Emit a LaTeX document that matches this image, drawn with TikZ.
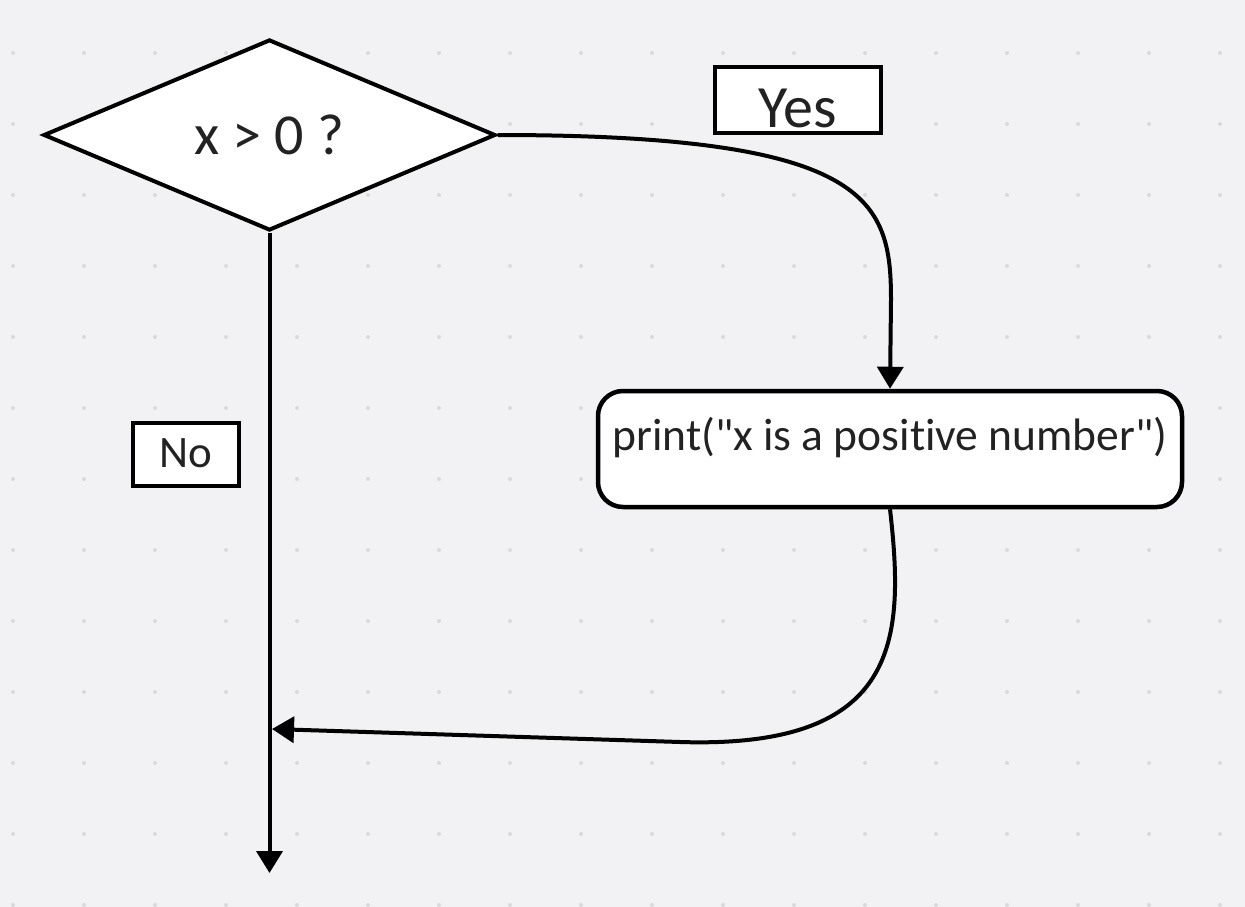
\documentclass[tikz,border=0pt]{standalone}
\usepackage{fontspec}
\setmainfont{Carlito}[Ligatures={NoCommon}]
\usetikzlibrary{arrows.meta, shapes.geometric}

\definecolor{canvas}{RGB}{242,242,244}
\definecolor{griddot}{RGB}{218,218,222}
\definecolor{ink}{RGB}{34,34,34}

\begin{document}
\begin{tikzpicture}[
  x=1pt, y=-1pt,
  decision/.style={diamond, draw, line width=4pt, fill=white, text=ink,
                   aspect=2.42, minimum width=452pt, minimum height=191pt,
                   inner sep=0pt, font=\fontsize{58}{58}\selectfont},
  tagbox/.style={draw, line width=4.5pt, fill=white, text=ink, inner sep=0pt},
  action/.style={draw, line width=4.5pt, fill=white, text=ink,
                 rounded corners=25pt, inner xsep=0pt, inner ysep=0pt,
                 minimum width=584pt, minimum height=116pt,
                 text height=59pt, text depth=57pt,
                 font=\fontsize{45.5}{45.5}\selectfont},
  arr/.style={-{Triangle[length=22pt,width=26pt]}, line width=4pt}
]
  % canvas with dot grid
  \useasboundingbox (0,0) rectangle (1245,907);
  \fill[canvas] (0,0) rectangle (1245,907);
  \foreach \gx in {13,84,...,1245}
    \foreach \gy in {53,124,...,907}
      \fill[griddot] (\gx,\gy) circle (2pt);

  % nodes
  \node[decision] (cond) at (269.5,135) {x > 0 ?};
  \node[action] (act) at (890,449)
       {print(\textquotedbl x is a positive number\textquotedbl)};
  \node[tagbox, minimum width=166pt, minimum height=66pt,
        text height=60pt, text depth=6pt,
        font=\fontsize{60}{60}\selectfont] (yes) at (798,100) {Yes};
  \node[tagbox, minimum width=106pt, minimum height=63pt,
        text height=44pt, text depth=19pt,
        font=\fontsize{45}{45}\selectfont] (no) at (186,454.5) {No};

  \coordinate (join) at (272,729);
  \coordinate (stop) at (269.5,873);

  % connectors
  \draw[arr] (cond.east) .. controls (870,135) and (891,200) .. (891,300)
             -- (act.north);
  \draw[arr] (act.south) .. controls (905,640) and (900,749) .. (680,742)
             -- (join);
  \draw[arr] (cond.south) -- (stop);
\end{tikzpicture}
\end{document}
